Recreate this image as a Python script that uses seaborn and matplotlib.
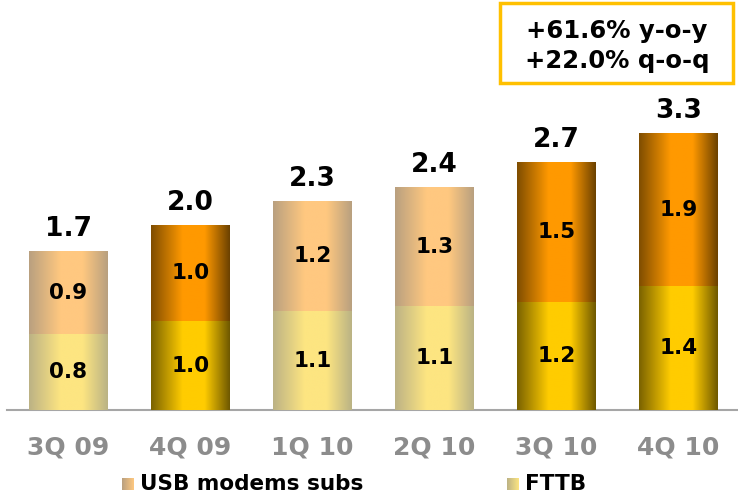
import numpy as np
import pandas as pd
import matplotlib
matplotlib.use("Agg")
import matplotlib.pyplot as plt
import seaborn as sns
from matplotlib.colors import to_rgb
from matplotlib.patches import Rectangle

# ---- data ----
quarters = ["3Q 09", "4Q 09", "1Q 10", "2Q 10", "3Q 10", "4Q 10"]
fttb = [0.82, 0.96, 1.07, 1.12, 1.17, 1.34]
usb = [0.91, 1.05, 1.20, 1.30, 1.52, 1.67]
fttb_labels = ["0.8", "1.0", "1.1", "1.1", "1.2", "1.4"]
usb_labels = ["0.9", "1.0", "1.2", "1.3", "1.5", "1.9"]
total_labels = ["1.7", "2.0", "2.3", "2.4", "2.7", "3.3"]
highlight = [False, True, False, False, True, True]
legend_labels = ["USB modems subs", "FTTB"]
growth_lines = ["+61.6% y-o-y", "+22.0% q-o-q"]

# ---- styles ----
sns.set_style("white")
plt.rcParams["font.family"] = ["DejaVu Sans"]

pal = {
    ("usb", True): ("#7f4d00", "#ff9900", "#6b4100"),
    ("fttb", True): ("#7a6200", "#ffcc00", "#6e5800"),
    ("usb", False): ("#b9a07f", "#ffc880", "#b8a07f"),
    ("fttb", False): ("#bcb285", "#fde581", "#bab385"),
}

xs = np.linspace(0, 1, 256)
prof = np.interp(xs, [0, 0.4, 0.68, 1.0], [0, 1, 1, 0])


def grad(key, profile=prof):
    left, centre, right = (np.array(to_rgb(c)) for c in pal[key])
    p = profile[:, None]
    lc = left + (centre - left) * p
    rc = right + (centre - right) * p
    img = np.where((xs < 0.5)[:, None], lc, rc)
    return img[None, :, :]


W, H = 738, 497
fig = plt.figure(figsize=(W / 100, H / 100), dpi=100)
ax = fig.add_axes([7.5 / W, 87 / H, (W - 7.5) / W, 410 / H])

df = pd.DataFrame({"quarter": quarters, "fttb": fttb, "usb": usb})
df["total"] = df["fttb"] + df["usb"]

sns.barplot(data=df, x="quarter", y="total", order=quarters, color="#ff9900",
            width=0.64, linewidth=0, saturation=1, errorbar=None, ax=ax)
sns.barplot(data=df, x="quarter", y="fttb", order=quarters, color="#ffcc00",
            width=0.64, linewidth=0, saturation=1, errorbar=None, ax=ax)

patches = list(ax.patches)
tot_p = patches[:6]
fttb_p = patches[6:12]
for i, (pt, pf) in enumerate(zip(tot_p, fttb_p)):
    hl = highlight[i]
    x0, w = pt.get_x(), pt.get_width()
    ax.imshow(grad(("usb", hl)), extent=[x0, x0 + w, pf.get_height(), pt.get_height()],
              aspect="auto", interpolation="bilinear", zorder=2)
    ax.imshow(grad(("fttb", hl)), extent=[x0, x0 + w, 0, pf.get_height()],
              aspect="auto", interpolation="bilinear", zorder=3)
    pt.set_visible(False)
    pf.set_visible(False)

for i in range(len(quarters)):
    f, u = fttb[i], usb[i]
    ax.text(i, f / 2, fttb_labels[i], ha="center", va="center", fontsize=15.5,
            fontweight="bold", color="black", zorder=5)
    ax.text(i, f + u / 2, usb_labels[i], ha="center", va="center", fontsize=15.5,
            fontweight="bold", color="black", zorder=5)
    ax.annotate(total_labels[i], (i, f + u), xytext=(0, 11), textcoords="offset points",
                ha="center", va="baseline", fontsize=19, fontweight="bold", color="black")

ax.set_xlim(-0.5, (W - 68.5) / 122)
ax.set_ylim(0, 410 / 92)
ax.set_xlabel("")
ax.set_ylabel("")
ax.set_yticks([])
ax.set_xticks(range(len(quarters)))
ax.set_xticklabels(quarters, fontsize=18, fontweight="bold", color="#8c8c8c")
ax.set_xticks(np.arange(-0.5, len(quarters) - 0.5, 1), minor=True)
ax.tick_params(axis="x", which="major", length=0, pad=18)
ax.tick_params(axis="x", which="minor", length=7, width=1.5, color="#a6a6a6", direction="out")
for s in ["top", "left", "right"]:
    ax.spines[s].set_visible(False)
ax.spines["bottom"].set_color("#a6a6a6")
ax.spines["bottom"].set_linewidth(1.5)

# legend
leg_prof = np.interp(xs, [0, 1], [0, 1])
for (key, sx, tx), lab in zip([(("usb", False), 122, 140), (("fttb", False), 507, 525)], legend_labels):
    la = fig.add_axes([sx / W, (H - 490) / H, 12 / W, 12 / H])
    la.imshow(grad(key, leg_prof), aspect="auto", interpolation="bilinear")
    la.axis("off")
    fig.text(tx / W, (H - 484) / H, lab, ha="left", va="center", fontsize=15.5,
             fontweight="bold", color="black")

# growth box
fig.add_artist(Rectangle((500 / W, (H - 83) / H), 233 / W, 80 / H, transform=fig.transFigure,
                         facecolor="white", edgecolor="#ffc000", linewidth=2.5))
for txt, yy in zip(growth_lines, [31, 61]):
    fig.text(617 / W, (H - yy) / H, txt, ha="center", va="center", fontsize=17.5,
             fontweight="bold", color="black")

fig.savefig("out.png", dpi=100)
